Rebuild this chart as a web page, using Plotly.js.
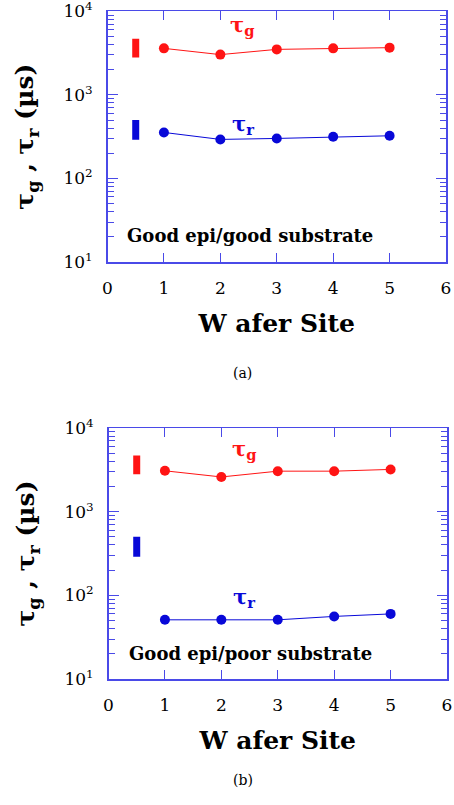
<!DOCTYPE html>
<html>
<head>
<meta charset="utf-8">
<script src="https://cdn.plot.ly/plotly-3.0.1.min.js"></script>
<style>html,body{margin:0;padding:0;background:#fff;}#chart{width:454px;height:805px;}</style>
</head>
<body>
<div id="chart"></div>
<script>
// ---- data ----
const sites = [1, 2, 3, 4, 5];
const tauG_a = [3600, 3030, 3500, 3600, 3670];
const tauR_a = [355, 293, 301, 315, 324];
const tauG_b = [3080, 2600, 3050, 3050, 3200];
const tauR_b = [51, 51, 51, 56, 60];
const barX = [0.5, 0.5];
const tauG_range = [2800, 4700];
const tauR_range = [290, 500];
const yTickVals = [10, 100, 1000, 10000];
const yTickText = ['10<sup>1</sup>', '10<sup>2</sup>', '10<sup>3</sup>', '10<sup>4</sup>'];
const xTickVals = [0, 1, 2, 3, 4, 5, 6];
const panelLabels = ['Good epi/good substrate', 'Good epi/poor substrate'];
const captions = ['(a)', '(b)'];

const RED = '#ff1414';
const BLUE = '#0808d8';
const AXC = '#4a4ae8';
const SERIF = 'DejaVu Serif';

function series(x, y, color, xa, ya) {
  return {x: x, y: y, type: 'scatter', mode: 'lines+markers', xaxis: xa, yaxis: ya,
    line: {color: color, width: 1}, marker: {color: color, size: 10}, hoverinfo: 'x+y'};
}
function bar(y, color, xa, ya) {
  return {x: barX, y: y, type: 'scatter', mode: 'lines', xaxis: xa, yaxis: ya,
    line: {color: color, width: 7}, hoverinfo: 'y'};
}

const data = [
  bar(tauG_range, RED, 'x', 'y'), bar(tauR_range, BLUE, 'x', 'y'),
  series(sites, tauG_a, RED, 'x', 'y'), series(sites, tauR_a, BLUE, 'x', 'y'),
  bar(tauG_range, RED, 'x2', 'y2'), bar(tauR_range, BLUE, 'x2', 'y2'),
  series(sites, tauG_b, RED, 'x2', 'y2'), series(sites, tauR_b, BLUE, 'x2', 'y2')
];

function xAxis(domain, anchor) {
  return {domain: domain, anchor: anchor, range: [0, 6], tickvals: xTickVals,
    ticks: 'inside', ticklen: 9, tickwidth: 1, tickcolor: AXC, showline: true, linecolor: AXC, linewidth: 1.5,
    mirror: 'ticks', showgrid: false, zeroline: false, ticklabelstandoff: 10, ticklabeloverflow: 'allow',
    tickfont: {family: SERIF, size: 17, color: '#000'},
    title: {text: 'W afer Site', font: {family: SERIF, size: 25, color: '#000', weight: 'bold'}, standoff: 17}};
}
function yAxis(domain, anchor) {
  return {domain: domain, anchor: anchor, type: 'log', range: [1, 4], tickvals: yTickVals, ticktext: yTickText,
    ticks: 'inside', ticklen: 10, tickwidth: 1, tickcolor: AXC, showline: true, linecolor: AXC, linewidth: 1.5,
    mirror: 'ticks', showgrid: false, zeroline: false, ticklabelstandoff: 10, ticklabeloverflow: 'allow',
    minor: {ticks: 'inside', ticklen: 6, tickcolor: AXC, dtick: 'D1', showgrid: false},
    tickfont: {family: SERIF, size: 17, color: '#000'},
    title: {text: 'τ<sub>g</sub> , τ<sub>r</sub> (µs)', font: {family: SERIF, size: 25, color: '#000', weight: 'bold'}, standoff: 22}};
}

function ann(x, y, text, color, size, xref, yref) {
  return {x: x, y: y, xref: xref, yref: yref, text: text, showarrow: false,
    font: {family: SERIF, size: size, color: color, weight: 'bold'}};
}

const layout = {
  width: 454, height: 805,
  margin: {l: 0, r: 0, t: 0, b: 0},
  paper_bgcolor: '#fff', plot_bgcolor: '#fff', showlegend: false,
  xaxis: xAxis([0.2368, 0.9824], 'y'),
  yaxis: yAxis([0.6745, 0.986], 'x'),
  xaxis2: xAxis([0.239, 0.9846], 'y2'),
  yaxis2: yAxis([0.1565, 0.4683], 'x2'),
  annotations: [
    ann(2.38, 3.83, 'τ<sub>g</sub>', RED, 21, 'x', 'y'),
    ann(2.40, 2.64, 'τ<sub>r</sub>', BLUE, 21, 'x', 'y'),
    ann(2.53, 1.32, panelLabels[0], '#000', 18, 'x', 'y'),
    ann(2.40, 3.74, 'τ<sub>g</sub>', RED, 21, 'x2', 'y2'),
    ann(2.41, 1.98, 'τ<sub>r</sub>', BLUE, 21, 'x2', 'y2'),
    ann(2.51, 1.31, panelLabels[1], '#000', 18, 'x2', 'y2'),
    {x: 0.535, y: 0.5366, xref: 'paper', yref: 'paper', text: captions[0], showarrow: false,
     font: {family: SERIF, size: 14, color: '#000'}},
    {x: 0.535, y: 0.0186, xref: 'paper', yref: 'paper', text: captions[1], showarrow: false,
     font: {family: SERIF, size: 14, color: '#000'}}
  ]
};

Plotly.newPlot('chart', data, layout, {displayModeBar: false, staticPlot: true});
</script>
</body>
</html>
